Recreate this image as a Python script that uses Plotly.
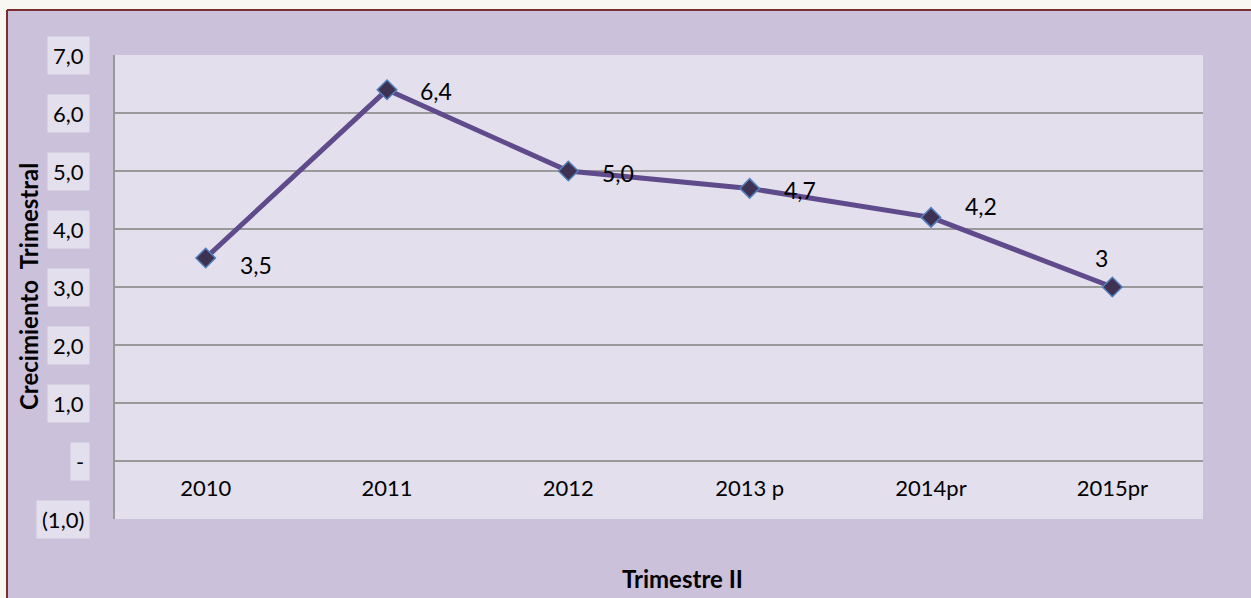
import plotly.graph_objects as go

# data
years = ['2010', '2011', '2012', '2013 p', '2014pr', '2015pr']
growth = [3.5, 6.4, 5.0, 4.7, 4.2, 3.0]
point_labels = ['3,5', '6,4', '5,0', '4,7', '4,2', '3']
y_ticks = [7, 6, 5, 4, 3, 2, 1, 0, -1]
y_tick_text = ['7,0', '6,0', '5,0', '4,0', '3,0', '2,0', '1,0', '-', '(1,0)']

# label offsets in px (dx, dy, anchor) - matches where Excel put them
label_offsets = [(32, -7, 'left'), (31, -1, 'left'), (32, -2, 'left'),
                 (32, -2, 'left'), (32, 11, 'left'), (-11, 29, 'center')]

font = 'Lato, Liberation Sans, sans-serif'
paper = '#CCC1DA'
plot_bg = '#E4DFEC'
fs = 22

W, H = 1251, 598
ml, mr, mt, mb = 115, 48, 55, 79
pw, ph = W - ml - mr, H - mt - mb


def px_x(x):
    return (x - ml) / pw


def px_y(y):
    return (H - mb - y) / ph


fig = go.Figure()

fig.add_trace(go.Scatter(
    x=years, y=growth,
    mode='lines+markers',
    line=dict(color='#5F4B8B', width=5),
    marker=dict(symbol='diamond', size=15, color='#3F3151',
                line=dict(color='#4F81BD', width=1.5)),
    cliponaxis=False,
    showlegend=False,
))

# category labels sit just under the zero line, like Excel
fig.add_trace(go.Scatter(
    x=years, y=[-0.5] * len(years),
    mode='text', text=years,
    textfont=dict(family=font, size=fs, color='black'),
    showlegend=False, hoverinfo='skip',
))

annotations = []
for i, (yv, t, (dx, dy, anc)) in enumerate(zip(growth, point_labels, label_offsets)):
    annotations.append(dict(
        x=i, xref='x', y=yv, yref='y', text=t, showarrow=False,
        xanchor=anc, yanchor='middle', xshift=dx, yshift=dy,
        font=dict(family=font, size=fs + 1, color='black'),
    ))

for v, t in zip(y_ticks, y_tick_text):
    annotations.append(dict(
        x=px_x(90), xref='paper', y=v, yref='y',
        text=t, showarrow=False, xanchor='right', yanchor='middle',
        font=dict(family=font, size=fs, color='black'),
        bgcolor=plot_bg, borderpad=5,
    ))

annotations.append(dict(
    x=px_x(28), xref='paper', y=px_y(287), yref='paper',
    xanchor='center', yanchor='middle',
    text='<b>Crecimiento  Trimestral</b>', textangle=-90, showarrow=False,
    font=dict(family=font, size=24, color='black'),
))
annotations.append(dict(
    x=px_x(682), xref='paper', y=px_y(578), yref='paper',
    xanchor='center', yanchor='middle',
    text='<b>Trimestre II</b>', showarrow=False,
    font=dict(family=font, size=24, color='black'),
))

shapes = [
    dict(type='rect', xref='paper', yref='paper', x0=px_x(-5), x1=px_x(W + 5),
         y0=px_y(10), y1=px_y(-5), fillcolor='#F8F7F2', line_width=0),
    dict(type='rect', xref='paper', yref='paper', x0=px_x(-5), x1=px_x(7),
         y0=px_y(H + 5), y1=px_y(-5), fillcolor='#F8F7F2', line_width=0),
    dict(type='line', xref='paper', yref='paper', x0=px_x(7), x1=px_x(W + 5),
         y0=px_y(10), y1=px_y(10), line=dict(color='#7A2E2E', width=2)),
    dict(type='line', xref='paper', yref='paper', x0=px_x(7), x1=px_x(7),
         y0=px_y(10), y1=px_y(H + 5), line=dict(color='#7A2E2E', width=2)),
]

fig.update_layout(
    width=W, height=H,
    margin=dict(l=ml, r=mr, t=mt, b=mb),
    paper_bgcolor=paper,
    plot_bgcolor=plot_bg,
    annotations=annotations,
    shapes=shapes,
    xaxis=dict(type='category', range=[-0.5, 5.5], showgrid=False,
               showticklabels=False, zeroline=False, showline=False),
    yaxis=dict(range=[-1, 7], tickvals=y_ticks, showticklabels=False,
               showgrid=True, gridcolor='#999999', gridwidth=2,
               zeroline=False, showline=True, linecolor='#999999', linewidth=2),
)

fig.write_html('out.html', config={'displayModeBar': False},
               post_script="document.body.style.margin='0';")
